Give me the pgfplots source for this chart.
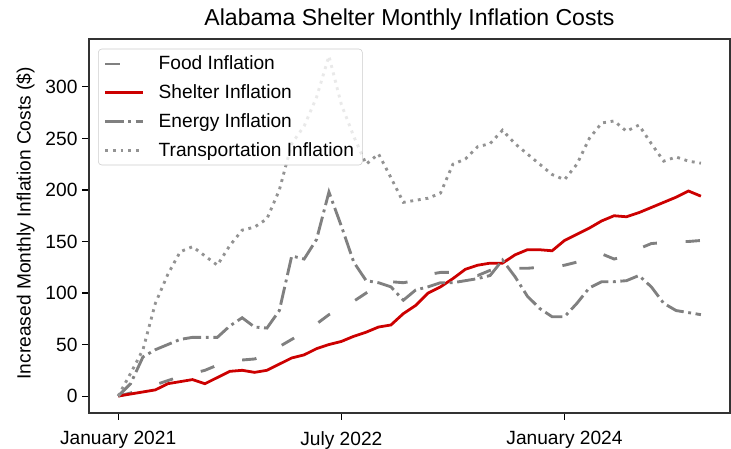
\documentclass[border=0pt]{standalone}
\usepackage{fontspec}
\setmainfont{Liberation Sans}
\usepackage{pgfplots}
\pgfplotsset{compat=1.18}

\definecolor{lgray}{RGB}{128,128,128}
\definecolor{shred}{RGB}{204,0,0}

% months since January 2021: food, shelter, energy, transportation
\pgfplotstableread{
m food shelter energy transport
0 0 0 0 0
1 3 2 12 22
2 7 4 38 45
3 11 6 45 90
4 15 12 50 118
5 19 14 55 140
6 22 16 57 145
7 25 12 57 136
8 30 18 57 127
9 33 24 68 146
10 35 25 76 161
11 36 23 67 164
12 40 25 66 172
13 48 31 83 200
14 55 37 136 245
15 62 40 133 262
16 70 46 152 290
17 79 50 198 330
18 85 53 165 283
19 92 58 130 252
20 100 62 112 225
21 108 67 110 235
22 111 69 106 212
23 110 80 93 188
24 112 88 103 190
25 118 100 106 192
26 120 106 110 197
27 120 114 110 225
28 118 123 112 230
29 117 127 114 242
30 122 129 117 245
31 123 129 132 258
32 124 137 116 245
33 124 142 97 235
34 125 142 85 225
35 125 141 77 215
36 127 151 77 210
37 130 157 90 225
38 134 163 105 250
39 138 170 111 265
40 133 175 111 267
41 136 174 112 257
42 143 178 117 263
43 148 183 106 245
44 149 188 90 228
45 150 193 83 232
46 150 199 81 228
47 151 194 79 226
}\datatable

\begin{document}
\begin{tikzpicture}
\path[use as bounding box] (0,0) rectangle (526.3bp,322.6bp);
\begin{axis}[
    at={(64.1bp,25.2bp)}, anchor=south west,
    scale only axis, width=461.5bp, height=269.3bp,
    xmin=-2.35, xmax=49.35, ymin=-16.5, ymax=346.5,
    font=\fontsize{13.8bp}{16.6bp}\selectfont,
    /pgf/number format/assume math mode=true,
    xtick={0,18,36},
    xticklabels={January 2021, July 2022, January 2024},
    xticklabel style={yshift=-5bp},
    ytick={0,50,...,300},
    tick pos=left, tick align=outside,
    major tick length=4.8bp,
    tick style={black, line width=0.8bp},
    axis line style={line width=1.1bp, black!80},
    title={Alabama Shelter Monthly Inflation Costs},
    title style={font=\fontsize{16.6bp}{20bp}\selectfont, at={(0.5,1)}, anchor=base, yshift=4bp},
    ylabel={Increased Monthly Inflation Costs (\$)},
    ylabel style={xshift=2bp, yshift=1bp},
    legend cell align=left,
    legend style={at={(0,1)}, anchor=north west, xshift=6.5bp, yshift=-7bp,
        draw=black!20, rounded corners=2.5bp, fill=white, fill opacity=0.8, text opacity=1,
        font=\fontsize{13.8bp}{16.6bp}\selectfont, row sep=5.2bp, column sep=8bp,
        inner xsep=4bp, inner ysep=3bp},
    legend image code/.code={\draw[#1] (0bp,0bp) -- (27.4bp,0bp);},
]
\addplot[lgray, line width=2.07bp, dash pattern=on 10.35bp off 20.7bp] table[x=m, y=food] {\datatable};
\addlegendentry{Food Inflation}
\addplot[shred, line width=2bp] table[x=m, y=shelter] {\datatable};
\addlegendentry{Shelter Inflation}
\addplot[lgray, line width=2.07bp, dash pattern=on 13.2bp off 3.3bp on 2.07bp off 3.3bp] table[x=m, y=energy] {\datatable};
\addlegendentry{Energy Inflation}
\addplot[lgray!85, line width=2.07bp, dash pattern=on 2.07bp off 3.42bp] table[x=m, y=transport] {\datatable};
\addlegendentry{Transportation Inflation}
\end{axis}
\end{tikzpicture}
\end{document}
